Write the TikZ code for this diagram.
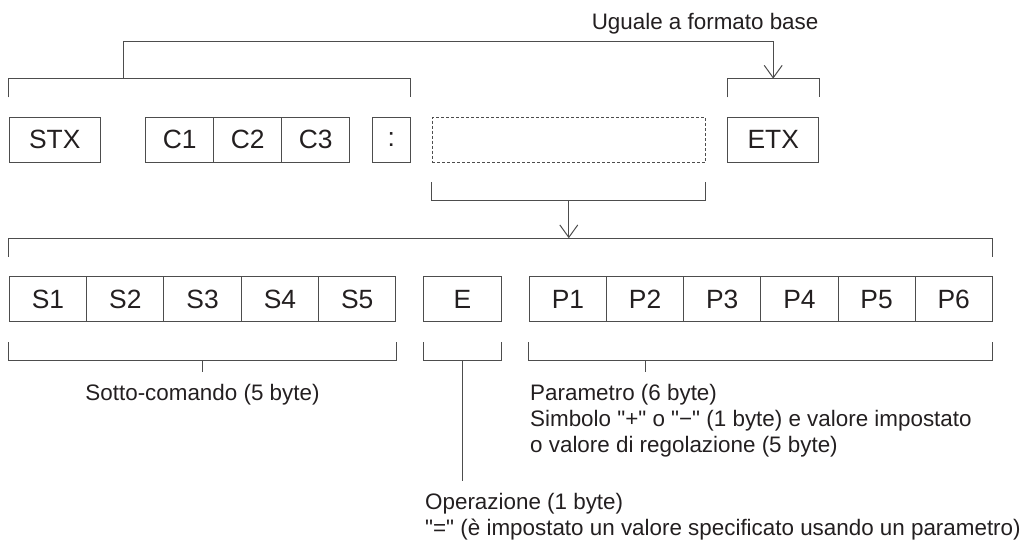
\documentclass[tikz,border=0pt]{standalone}
\usepackage{fontspec}
\setmainfont{Liberation Sans}[Ligatures=TeXOff]
\usetikzlibrary{arrows.meta,calc}
\definecolor{linec}{RGB}{77,77,77}
\definecolor{textc}{RGB}{35,31,32}
\tikzset{
  line/.style={draw=linec, line width=1pt},
  cell/.style={draw=linec, line width=1pt, inner sep=0pt, minimum height=45.5pt, text=textc, font=\fontsize{26.4}{30}\selectfont},
  dashcell/.style={cell, dash pattern=on 3pt off 2pt},
  lbl/.style={inner sep=0pt, text=textc, font=\fontsize{22.4}{26}\selectfont, align=left},
  tip/.style={-{Straight Barb[length=12.5pt,width=18pt]}}
}
\begin{document}
\begin{tikzpicture}[x=1pt,y=-1pt]
\useasboundingbox (0,0) rectangle (1029,543);
% row 1
\node[cell, minimum width=91pt] (stx) at (54.8,139.9) {STX};
\node[cell, minimum width=68pt] (c1) at (179.7,139.9) {C1};
\node[cell, minimum width=68pt] (c2) at (247.7,139.9) {C2};
\node[cell, minimum width=68pt] (c3) at (315.7,139.9) {C3};
\node[cell, minimum width=38pt] (colon) at (391.3,139.9) {:};
\node[dashcell, minimum width=273pt] (dash) at (568.8,139.9) {};
\node[cell, minimum width=91pt] (etx) at (773.2,139.9) {ETX};
% row 2
\foreach \i [count=\k from 0] in {1,...,5}{
  \node[cell, minimum width=77.3pt] (s\i) at ({48+77.3*\k},299.2) {S\i};
}
\node[cell, minimum width=77.3pt] (e) at (462.35,299.2) {E};
\foreach \i [count=\k from 0] in {1,...,6}{
  \node[cell, minimum width=77.17pt] (p\i) at ({567.9+77.17*\k},299.2) {P\i};
}
% top brackets
\draw[line] ([yshift=19.3pt]stx.north west) -- ([yshift=38pt]stx.north west) -- ([yshift=38pt]colon.north east) -- ([yshift=19.3pt]colon.north east);
\draw[line] ([yshift=19.3pt]etx.north west) -- ([yshift=38pt]etx.north west) -- ([yshift=38pt]etx.north east) -- ([yshift=19.3pt]etx.north east);
\coordinate (ja) at ($(stx.east)!0.5!(c1.west)+(0,-60.9)$);
\coordinate (jb) at ([yshift=38pt]etx.north);
\draw[line, tip] (ja) -- ++(0,-37.3) -| (jb);
\node[lbl, anchor=base east] (same) at (818.6,30) {Uguale a formato base};
% dashed bracket and arrow
\draw[line] ([yshift=-19pt]dash.south west) -- ([yshift=-37.3pt]dash.south west) -- ([yshift=-37.3pt]dash.south east) -- ([yshift=-19pt]dash.south east);
\coordinate (jc) at ([yshift=-37.3pt]dash.south);
\draw[line] ([yshift=19.4pt]s1.north west) -- ([yshift=37.7pt]s1.north west) -- ([yshift=37.7pt]p6.north east) -- ([yshift=19.4pt]p6.north east);
\coordinate (jd) at (jc |- {$(s1.north)+(0,-37.7)$});
\draw[line, tip] (jc) -- (jd);
% lower brackets
\draw[line] ([yshift=-20pt]s1.south west) -- ([yshift=-38.3pt]s1.south west) -- ([yshift=-38.3pt]s5.south east) -- ([yshift=-20pt]s5.south east);
\draw[line] ([yshift=-20pt]e.south west) -- ([yshift=-38.3pt]e.south west) -- ([yshift=-38.3pt]e.south east) -- ([yshift=-20pt]e.south east);
\draw[line] ([yshift=-20pt]p1.south west) -- ([yshift=-38.3pt]p1.south west) -- ([yshift=-38.3pt]p6.south east) -- ([yshift=-20pt]p6.south east);
\draw[line] ($(s1.south)!0.5!(s5.south)+(0,38.3)$) -- ++(0,11.7);
\draw[line] ($(e.south)+(0,38.3)$) -- ++(0,120);
\draw[line] ($(p2.south)+(0,38.3)$) -- ++(0,11.7);
% labels
\node[lbl, anchor=base] (sotto) at (202.5,400) {Sotto-comando (5 byte)};
\node[lbl, anchor=north west] (param) at (530,383.6) {Parametro (6 byte)\\Simbolo "+" o "−" (1 byte) e valore impostato\\o valore di regolazione (5 byte)};
\node[lbl, anchor=north west] (oper) at (425,493.1) {Operazione (1 byte)\\"=" (è impostato un valore specificato usando un parametro)};
\end{tikzpicture}
\end{document}
